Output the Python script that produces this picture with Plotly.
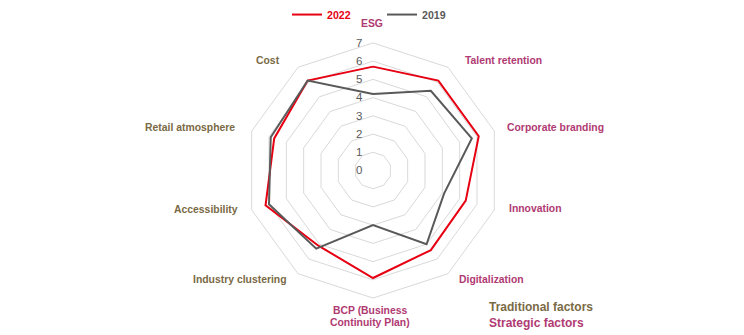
import plotly.graph_objects as go

categories = ["ESG", "Talent retention", "Corporate branding", "Innovation", "Digitalization",
              "BCP (Business Continuity Plan)", "Industry clustering", "Accessibility",
              "Retail atmosphere", "Cost"]
strategic = [True, True, True, True, True, True, False, False, False, False]
values_2022 = [5.7, 6.1, 6.1, 5.35, 5.4, 5.9, 5.1, 6.2, 5.7, 6.1]
values_2019 = [4.2, 5.4, 5.7, 4.1, 5.0, 3.0, 5.3, 6.0, 5.9, 6.1]
radial_ticks = [0, 1, 2, 3, 4, 5, 6, 7]

RED = "#E60012"
GRAY = "#595959"
MAGENTA = "#B03A72"
OLIVE = "#7A6A45"
FONT = "Liberation Sans, Arial, sans-serif"

W, H = 744, 335
CX, CY, R = 373, 168, 129.5

# category label placement in pixels: (x, y, horizontal anchor)
label_spots = [
    (372, 19, "center"), (463, 56, "left"), (505, 124, "left"), (507, 207, "left"),
    (457, 279, "left"), (370, 310, "center"), (289, 279, "right"), (240, 208, "right"),
    (237, 124, "right"), (282, 56, "right"),
]

fig = go.Figure()
for name, vals, col in [("2022", values_2022, RED), ("2019", values_2019, GRAY)]:
    fig.add_trace(go.Scatterpolar(
        r=vals + vals[:1],
        theta=categories + categories[:1],
        mode="lines",
        line=dict(color=col, width=2),
        name=f"<span style='color:{col}'><b>{name}</b></span>",
    ))

annotations = []
for cat, s, (px, py, anchor) in zip(categories, strategic, label_spots):
    col = MAGENTA if s else OLIVE
    lines = ["BCP (Business", "Continuity Plan)"] if cat.startswith("BCP") else [cat]
    for i, line in enumerate(lines):
        annotations.append(dict(
            text=f"<b>{line}</b>", x=px / W, y=1 - (py + 12 * i) / H,
            xref="paper", yref="paper", xanchor=anchor, yanchor="middle",
            showarrow=False, font=dict(size=10.4, color=col),
        ))

annotations += [
    dict(text="<b>Traditional factors</b>", x=487 / W, y=1 - 307 / H, xref="paper", yref="paper",
         xanchor="left", yanchor="middle", showarrow=False, font=dict(size=12, color=OLIVE)),
    dict(text="<b>Strategic factors</b>", x=487 / W, y=1 - 323 / H, xref="paper", yref="paper",
         xanchor="left", yanchor="middle", showarrow=False, font=dict(size=12, color=MAGENTA)),
]

fig.update_layout(
    width=W, height=H,
    margin=dict(l=0, r=0, t=0, b=0),
    paper_bgcolor="white",
    plot_bgcolor="white",
    font=dict(family=FONT, size=11, color=GRAY),
    polar=dict(
        domain=dict(x=[(CX - R) / W, (CX + R) / W], y=[1 - (CY + R) / H, 1 - (CY - R) / H]),
        bgcolor="white",
        gridshape="linear",
        radialaxis=dict(
            range=[0, 7], tickvals=radial_ticks, angle=90, tickangle=90,
            showline=False, ticks="outside", ticklen=6, tickcolor="rgba(0,0,0,0)",
            gridcolor="#D9D9D9", gridwidth=1,
            tickfont=dict(size=11.5, color="#595959"), side="counterclockwise",
        ),
        angularaxis=dict(
            rotation=90, direction="clockwise", showticklabels=False,
            showgrid=False, showline=True, linecolor="#D9D9D9", linewidth=1, ticks="",
        ),
    ),
    legend=dict(
        orientation="h", x=287 / W, y=1.015, xanchor="left", yanchor="top",
        font=dict(size=10.6), entrywidth=50, entrywidthmode="pixels",
        bgcolor="rgba(0,0,0,0)",
    ),
    annotations=annotations,
)

fig.write_html("out.html")
